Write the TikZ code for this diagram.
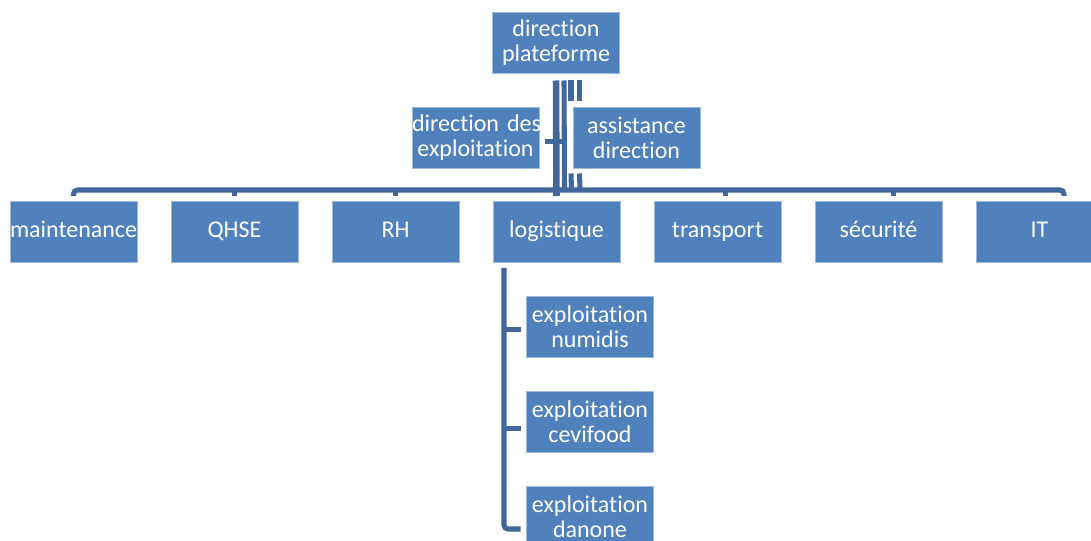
\documentclass[tikz,border=0pt]{standalone}
\usepackage{fontspec}
\setmainfont{Carlito}[Ligatures=NoCommon]
\usetikzlibrary{positioning}
\usetikzlibrary{calc}
\definecolor{boxblue}{HTML}{4F81BD}
\definecolor{linkblue}{HTML}{41679B}

\begin{document}
\begin{tikzpicture}[
  x=0.75pt, y=-0.75pt,
  font=\fontsize{18}{18.8}\selectfont,
  unit/.style={fill=boxblue, draw=boxblue!55!white, line width=0.4pt, text=white, align=center, text width=95.25pt, minimum height=45.75pt, inner sep=0pt, outer sep=0pt},
  dept/.style={unit, text height=12.5pt, text depth=4pt},
  link/.style={draw=linkblue, line width=3.8pt},
  trunk/.style={draw=linkblue, line width=4.9pt}
]
\useasboundingbox (0,0) rectangle (1091,541);
\clip (0,0) rectangle (1091,541);

\node[unit] (head) at (556,43) {direction\\plateforme};
\node[unit, below=25.5pt of head, xshift=-60.375pt] (direxp) {\mbox{direction des}\\exploitation};
\node[unit, below=25.5pt of head, xshift=60.375pt] (assist) {assistance\\direction};

% departments
\node[dept] (maintenance) at (73.5,231.5) {maintenance};
\node[dept, right=25.5pt of maintenance] (qhse) {QHSE};
\node[dept, right=25.5pt of qhse] (rh) {RH};
\node[dept, right=25.5pt of rh] (logistique) {logistique};
\node[dept, right=25.5pt of logistique] (transport) {transport};
\node[dept, right=25.5pt of transport] (securite) {sécurité};
\node[dept, right=25.5pt of securite] (it) {IT};

% exploitations under logistique
\node[unit, below=25.5pt of logistique, xshift=25.125pt] (numidis) {exploitation\\numidis};
\node[unit, below=25.5pt of numidis] (cevifood) {exploitation\\cevifood};
\node[unit, below=25.5pt of cevifood] (danone) {exploitation\\danone};

% links from the head
\draw[trunk] ($(head.south)+(0,7)$) -- ($(logistique.north)+(0,-5)$);
\draw[link] ($(head.south)+(8,7)$) -- ($(logistique.north)+(8,-11)$);
\draw[link] ($(head.south)+(15,7)$) -- ++(0,21);
\draw[link] ($(head.south)+(23.5,7)$) -- ++(0,21);
\draw[link] ($(assist.south west)+(-2,5)$) -- ($(logistique.north)+(15,-11)$);
\draw[link] ($(assist.south west)+(6.5,5)$) -- ($(logistique.north)+(23.5,-11)$);
\draw[link] ($(direxp.east)+(6,3.5)$) -- ++(22,0);

% bus over the departments
\draw[link, rounded corners=3] ($(maintenance.north)+(0,-5)$) |- ($(it.north)+(24.5,-11)$) -- ++(0,6);
\foreach \dept/\dx in {qhse/0, rh/0, transport/8, securite/15}
  \draw[link] ($(\dept.north)+(\dx,-11)$) -- ++(0,6);

% logistique branch
\draw[link, rounded corners=3] ($(logistique.south west)+(11,6)$) |- ($(danone.west)+(-6,12.5)$);
\draw[link] ($(numidis.west)+(-6,3)$) -- ++(-17,0);
\draw[link] ($(cevifood.west)+(-6,7)$) -- ++(-17,0);

\end{tikzpicture}
\end{document}
